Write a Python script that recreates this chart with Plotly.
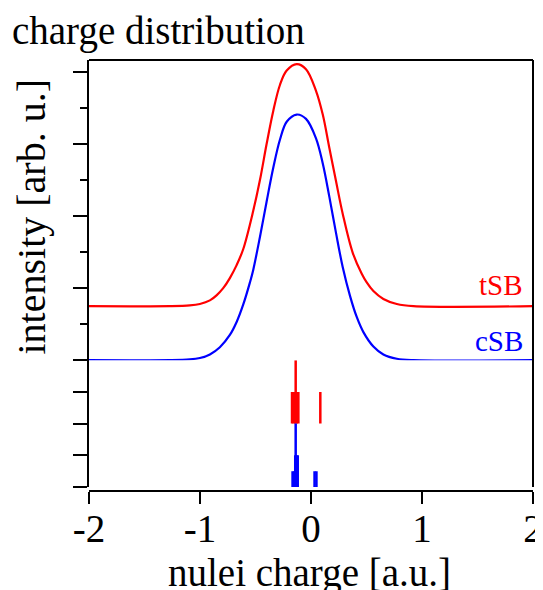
import plotly.graph_objects as go

# ---- data ----
cSB_x = [-2.0, -1.272, -1.092, -1.001, -0.911, -0.821, -0.731, -0.670, -0.611, -0.550,
         -0.521, -0.460, -0.400, -0.340, -0.280, -0.219, -0.129, -0.045, 0.045, 0.106,
         0.165, 0.226, 0.286, 0.352, 0.412, 0.472, 0.562, 0.652, 0.773, 0.923, 2.0]
cSB_curve = [0, 0, 0.01, 0.03, 0.08, 0.18, 0.35, 0.53, 0.77, 1.08,
             1.25, 1.71, 2.20, 2.67, 3.06, 3.31, 3.41, 3.35, 3.08, 2.73,
             2.27, 1.76, 1.29, 0.89, 0.60, 0.39, 0.19, 0.08, 0.02, 0, 0]

tSB_x = [-2.0, -1.272, -1.092, -1.001, -0.911, -0.851, -0.791, -0.731, -0.670, -0.611,
         -0.521, -0.460, -0.400, -0.340, -0.280, -0.219, -0.129, -0.045, 0.045, 0.106,
         0.165, 0.226, 0.286, 0.376, 0.457, 0.502, 0.562, 0.652, 0.773, 0.923, 2.0]
tSB_curve = [0.75, 0.75, 0.76, 0.78, 0.83, 0.90, 1.00, 1.14, 1.32, 1.54,
             2.07, 2.50, 3.00, 3.46, 3.82, 4.02, 4.11, 4.04, 3.74, 3.41,
             2.95, 2.48, 2.03, 1.49, 1.20, 1.08, 0.96, 0.85, 0.78, 0.75, 0.75]

# stick spectra (lower panel)
tSB_stick_base = 2
tSB_stick_x = [-0.171, -0.157, -0.143, -0.128, -0.114, -0.138, 0.084]
tSB_stick_h = [1, 1, 1, 1, 1, 2, 1]
cSB_stick_base = 0
cSB_stick_x = [-0.166, -0.153, -0.142, -0.131, -0.1195, -0.138, 0.032, 0.049]
cSB_stick_h = [0.5, 0.5, 1, 1, 1, 2, 0.5, 0.5]

x_ticks = [-2, -1, 0, 1, 2]
series_labels = ["tSB", "cSB"]

RED = "#ff0000"
BLUE = "#0000ff"
FONT = "Liberation Serif"

# the page body adds an 8 px margin; the figure is sized so the whole view is 543x590
W, H = 535, 582
ML, MR, MT, MB = 81, 10, 52, 99
PW, PH = W - ML - MR, H - MT - MB


def stick_path(xs, hs, base):
    px, py = [], []
    for x, h in zip(xs, hs):
        px += [x, x, None]
        py += [base, base + h, None]
    return px, py


fig = go.Figure()
fig.add_trace(go.Scatter(x=tSB_x, y=tSB_curve, mode="lines", name="tSB",
                         line=dict(color=RED, width=2.2, shape="spline", smoothing=1.0),
                         xaxis="x", yaxis="y"))
fig.add_trace(go.Scatter(x=cSB_x, y=cSB_curve, mode="lines", name="cSB",
                         line=dict(color=BLUE, width=2.2, shape="spline", smoothing=1.0),
                         xaxis="x", yaxis="y"))
sx, sy = stick_path(tSB_stick_x, tSB_stick_h, tSB_stick_base)
fig.add_trace(go.Scatter(x=sx, y=sy, mode="lines", line=dict(color=RED, width=2.5),
                         xaxis="x", yaxis="y2", connectgaps=False))
sx, sy = stick_path(cSB_stick_x, cSB_stick_h, cSB_stick_base)
fig.add_trace(go.Scatter(x=sx, y=sy, mode="lines", line=dict(color=BLUE, width=2.5),
                         xaxis="x", yaxis="y2", connectgaps=False))

low_dom = [0.0093, 0.3035]
fig.update_layout(
    width=W, height=H,
    margin=dict(l=ML, r=MR, t=MT, b=MB, autoexpand=False),
    paper_bgcolor="white", plot_bgcolor="white",
    showlegend=False,
    font=dict(family=FONT, color="black", size=39),
    title=dict(text="charge distribution", x=4 / W, xanchor="left", xref="container",
               y=0.985, yanchor="top", font=dict(family=FONT, size=39, color="black")),
    xaxis=dict(range=[-2, 2], tickvals=x_ticks, ticktext=[str(v) for v in x_ticks],
               anchor="free", position=0, showline=True, linewidth=2, linecolor="black",
               ticks="outside", ticklen=12, tickwidth=2, tickcolor="black",
               showgrid=False, zeroline=False, automargin=False,
               ticklabelstandoff=-9,
               tickfont=dict(family=FONT, size=39)),
    yaxis=dict(domain=[low_dom[1], 1], range=[0, 4.167], tick0=0, dtick=1,
               showline=True, linewidth=2, linecolor="black",
               ticks="outside", ticklen=14, tickwidth=2, tickcolor="black",
               minor=dict(dtick=0.5, ticklen=7, tickwidth=2, ticks="outside", tickcolor="black", showgrid=False),
               showticklabels=False, showgrid=False, zeroline=False, automargin=False),
    yaxis2=dict(domain=low_dom, range=[0, 4], tick0=0, dtick=1, anchor="x",
                showline=True, linewidth=2, linecolor="black",
                ticks="outside", ticklen=14, tickwidth=2, tickcolor="black",
                showticklabels=False, showgrid=False, zeroline=False, automargin=False),
)

# x-axis title
fig.add_annotation(text="nulei charge [a.u.]", xref="paper", yref="paper",
                   x=0.4977, y=(H - MB - 541.3) / PH, xanchor="center", yanchor="top",
                   showarrow=False, font=dict(family=FONT, size=39, color="black"))

# y-axis title (rotated text)
fig.add_annotation(text="intensity [arb. u.]", textangle=-90, xref="paper", yref="paper",
                   x=(47.5 - ML) / PW, y=1 - (208.5 - MT) / PH, xanchor="right", yanchor="middle",
                   showarrow=False, font=dict(family=FONT, size=40, color="black"))

# frame (top and right edges)
fig.add_shape(type="line", xref="paper", yref="paper", x0=0, x1=1, y0=1, y1=1,
              line=dict(color="black", width=2))
fig.add_shape(type="line", xref="paper", yref="paper", x0=1, x1=1, y0=low_dom[0], y1=1,
              line=dict(color="black", width=2))

# series labels
fig.add_annotation(text=series_labels[0], xref="paper", yref="y", x=0.982, y=0.80,
                   xanchor="right", yanchor="bottom", showarrow=False,
                   font=dict(family=FONT, size=29, color=RED))
fig.add_annotation(text=series_labels[1], xref="paper", yref="y", x=0.982, y=0.02,
                   xanchor="right", yanchor="bottom", showarrow=False,
                   font=dict(family=FONT, size=29, color=BLUE))

fig.write_html("out.html")
